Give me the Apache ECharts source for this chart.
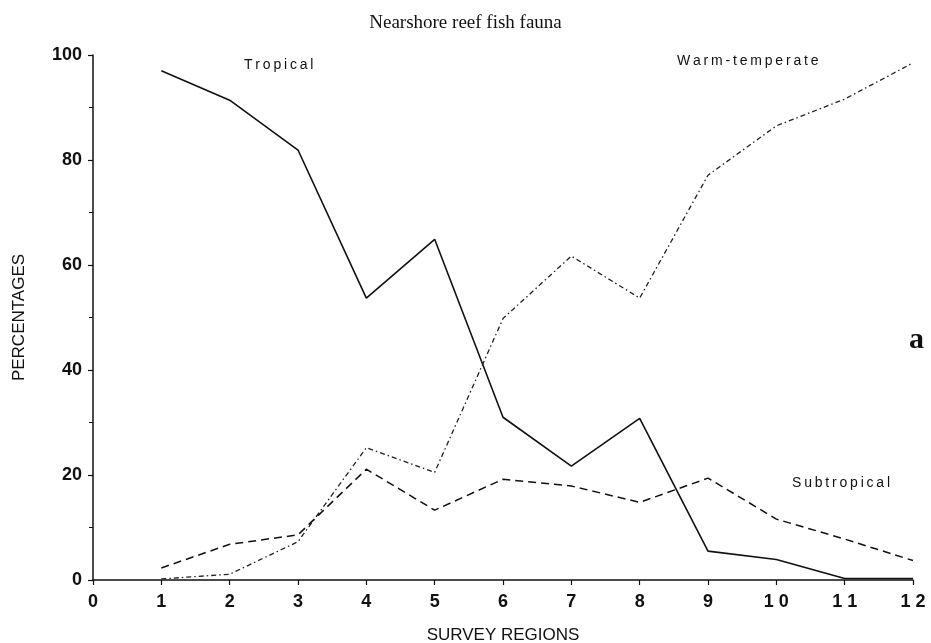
<!DOCTYPE html>
<html>
<head>
<meta charset="utf-8">
<script src="https://cdn.jsdelivr.net/npm/echarts@6/dist/echarts.min.js"></script>
<style>
  html, body { margin: 0; padding: 0; background: #fff; }
  #chart { width: 931px; height: 643px; }
</style>
</head>
<body>
<div id="chart"></div>
<script>
// Survey regions along the coast and percentage of each fauna group
const regions = [1, 2, 3, 4, 5, 6, 7, 8, 9, 10, 11, 12];
const tropical = [97.0, 91.4, 81.9, 53.7, 64.9, 31.0, 21.7, 30.8, 5.5, 3.9, 0.3, 0.3];
const subtropical = [2.3, 6.8, 8.6, 21.1, 13.3, 19.2, 17.9, 14.8, 19.4, 11.6, 7.8, 3.7];
const warmTemperate = [0.2, 1.1, 7.3, 25.2, 20.5, 49.8, 61.7, 53.7, 77.1, 86.5, 91.6, 98.5];
const xTickLabels = ['0', '1', '2', '3', '4', '5', '6', '7', '8', '9', '1 0', '1 1', '1 2'];
const yTickLabels = ['0', '20', '40', '60', '80', '100'];

const pairs = vals => regions.map((r, i) => [r, vals[i]]);
// spread the letters of a curve label with thin spaces
const spaced = s => s.split('').join('\u2009');

const chart = echarts.init(document.getElementById('chart'), null, { renderer: 'canvas' });

const tickFont = { fontFamily: 'Liberation Sans', fontWeight: 'bold', fontSize: 18, color: '#111' };
const labelFont = { fontFamily: 'Liberation Sans', fontSize: 14, fill: '#111', verticalAlign: 'middle' };

chart.setOption({
  backgroundColor: '#fff',
  animation: false,
  title: {
    text: 'Nearshore reef fish fauna',
    left: 'center',
    top: 9,
    textStyle: { fontFamily: 'Liberation Serif', fontWeight: 'normal', fontSize: 19, color: '#111' }
  },
  grid: { left: 93, right: 18, top: 55, bottom: 63, containLabel: false, outerBoundsMode: 'none' },
  xAxis: {
    type: 'value',
    min: 0, max: 12, interval: 1,
    name: 'SURVEY REGIONS',
    nameLocation: 'middle',
    nameGap: 47,
    nameTextStyle: { fontFamily: 'Liberation Sans', fontSize: 17, color: '#111' },
    axisLine: { show: true, lineStyle: { color: '#111', width: 1.5 } },
    axisTick: { show: true, length: 5, lineStyle: { color: '#111', width: 1.2 } },
    axisLabel: Object.assign({ margin: 13, formatter: v => xTickLabels[Math.round(v)] }, tickFont),
    splitLine: { show: false }
  },
  yAxis: {
    type: 'value',
    min: 0, max: 100, interval: 20,
    name: 'PERCENTAGES',
    nameLocation: 'middle',
    nameGap: 65,
    nameRotate: 90,
    nameTextStyle: { fontFamily: 'Liberation Sans', fontSize: 17, color: '#111' },
    axisLine: { show: true, lineStyle: { color: '#111', width: 1.5 } },
    axisTick: { show: true, length: 5, lineStyle: { color: '#111', width: 1.2 } },
    minorTick: { show: true, splitNumber: 2, length: 4, lineStyle: { color: '#111', width: 1 } },
    axisLabel: Object.assign({ margin: 11, formatter: v => yTickLabels[Math.round(v / 20)] }, tickFont),
    splitLine: { show: false }
  },
  series: [
    {
      name: 'Tropical',
      type: 'line',
      data: pairs(tropical),
      symbol: 'none',
      lineStyle: { color: '#111', width: 1.6, type: 'solid' }
    },
    {
      name: 'Subtropical',
      type: 'line',
      data: pairs(subtropical),
      symbol: 'none',
      lineStyle: { color: '#111', width: 1.5, type: [8, 5] }
    },
    {
      name: 'Warm-temperate',
      type: 'line',
      data: pairs(warmTemperate),
      symbol: 'none',
      lineStyle: { color: '#222', width: 1.3, type: [5, 3, 1.5, 3] }
    }
  ],
  graphic: [
    { type: 'text', x: 244, y: 65, style: Object.assign({ text: spaced('Tropical') }, labelFont) },
    { type: 'text', x: 677, y: 61, style: Object.assign({ text: spaced('Warm-temperate') }, labelFont) },
    { type: 'text', x: 792, y: 483, style: Object.assign({ text: spaced('Subtropical') }, labelFont) },
    { type: 'text', x: 909, y: 340, style: { text: 'a', fontFamily: 'Liberation Serif', fontWeight: 'bold', fontSize: 30, fill: '#111', verticalAlign: 'middle' } }
  ]
});
</script>
</body>
</html>
